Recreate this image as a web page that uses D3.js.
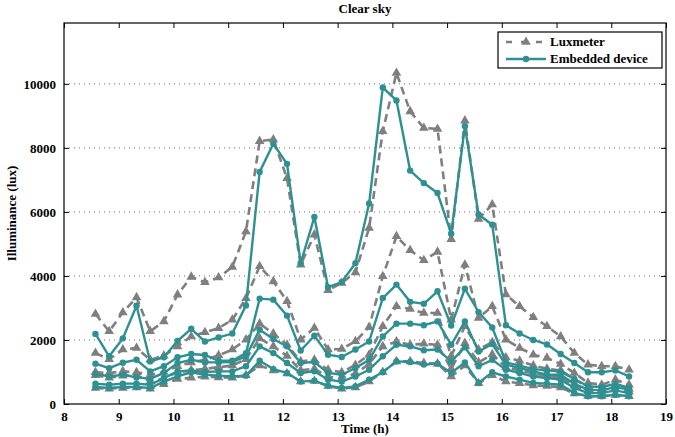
<!DOCTYPE html>
<html>
<head>
<meta charset="utf-8">
<script src="https://cdn.jsdelivr.net/npm/d3@7"></script>
<style>
  body { margin: 0; background: #fff; }
  text { font-family: "Liberation Serif", "DejaVu Serif", serif; font-weight: bold; }
</style>
</head>
<body>
<div id="chart"></div>
<script>
'use strict';

// sampling times (h), every 15 min from 8:35
var times = d3.range(40).map(function(i) { return 8.575 + 0.25 * i; });

var xTicks = [8, 9, 10, 11, 12, 13, 14, 15, 16, 17, 18, 19];
var yTicks = [0, 2000, 4000, 6000, 8000, 10000];

// luxmeter readings, one array per sensor position
var lux1 = [2810, 2270, 2860, 3330, 2270, 2580, 3415, 3970, 3800, 3950, 4280, 5390, 8210, 8260, 7050, 4350, 5290, 3550, 3780, 4110,
            5500, 8520, 10340, 9140, 8620, 8590, 5150, 8850, 5780, 6230, 3420, 3050, 2710, 2430, 2110, 1590, 1230, 1180, 1180, 1070];
var lux2 = [1590, 1400, 1700, 1750, 1380, 1510, 1800, 2110, 2240, 2370, 2630, 3300, 4300, 3830, 3210, 2010, 2375, 1700, 1720, 1960,
            2400, 3990, 5240, 4800, 4490, 4750, 2630, 4350, 2690, 3050, 2010, 1750, 1540, 1440, 1250, 970, 660, 600, 760, 600];
var lux3 = [990, 970, 1020, 990, 915, 1000, 1180, 1300, 1380, 1520, 1700, 2010, 2510, 2200, 1850, 1330, 1380, 1070, 990, 1220,
            1540, 2430, 3050, 2970, 2840, 2840, 1500, 2430, 1700, 1930, 1450, 1350, 1200, 1100, 1050, 780, 520, 470, 600, 470];
var lux4 = [900, 820, 880, 900, 700, 800, 1000, 1050, 1100, 1150, 1200, 1400, 2050, 1800, 1500, 1050, 1100, 850, 800, 950,
            1250, 1800, 1950, 1850, 1880, 1850, 1100, 1900, 1300, 1550, 1150, 1050, 950, 880, 830, 580, 400, 380, 480, 380];
var lux5 = [500, 480, 500, 520, 480, 620, 780, 820, 850, 830, 820, 900, 1200, 1050, 950, 700, 720, 560, 480, 520,
            700, 1000, 1330, 1330, 1280, 1260, 860, 1200, 650, 900, 700, 650, 580, 560, 520, 330, 250, 240, 280, 240];

// embedded device readings
var dev1 = [2190, 1490, 2050, 3070, 1330, 1460, 1970, 2350, 1950, 2080, 2200, 3080, 7250, 8130, 7500, 4400, 5840, 3650, 3810, 4400,
            6260, 9885, 9480, 7290, 6900, 6590, 5320, 8680, 5920, 5600, 2460, 2200, 2000, 1860, 1560, 1280, 990, 990, 1050, 860];
var dev2 = [1260, 1120, 1290, 1380, 1020, 1180, 1460, 1560, 1530, 1350, 1350, 1590, 3290, 3260, 2760, 1670, 2130, 1540, 1470, 1700,
            1950, 3310, 3730, 3190, 3130, 3520, 2450, 3600, 2870, 2390, 1300, 1200, 1090, 1050, 1010, 780, 550, 530, 630, 500];
var dev3 = [950, 860, 915, 830, 790, 970, 1280, 1380, 1300, 1300, 1310, 1490, 2320, 2030, 1800, 1280, 1310, 970, 915, 1125,
            1380, 2110, 2510, 2510, 2460, 2580, 1850, 2580, 1640, 1875, 1230, 1125, 1020, 915, 915, 630, 450, 425, 530, 450];
var dev4 = [635, 600, 635, 635, 600, 810, 1020, 1040, 1000, 1020, 1020, 1180, 1800, 1590, 1280, 970, 1020, 760, 700, 860,
            1070, 1490, 1850, 1800, 1680, 1700, 1330, 1770, 1180, 1380, 1070, 970, 860, 810, 760, 500, 340, 340, 425, 340];
var dev5 = [530, 500, 530, 530, 500, 700, 860, 990, 915, 885, 860, 885, 1350, 1090, 970, 700, 730, 570, 500, 550,
            760, 990, 1330, 1310, 1230, 1260, 970, 1300, 655, 990, 860, 760, 655, 635, 600, 340, 240, 240, 290, 240];

var luxSeries = [lux1, lux2, lux3, lux4, lux5];
var devSeries = [dev1, dev2, dev3, dev4, dev5];

var width = 675;
var height = 437;
var margin = {top: 23, right: 9, bottom: 33, left: 64};
var grey = '#7f7f7f';
var teal = '#2f9092';
var fontSize = '13px';

var svg = d3.select('#chart').append('svg')
    .attr('width', width)
    .attr('height', height);

var x = d3.scaleLinear().domain([8, 19]).range([margin.left, width - margin.right]);
var y = d3.scaleLinear().domain([0, 11900]).range([height - margin.bottom, margin.top]);

// dotted horizontal grid
svg.append('g')
    .selectAll('line')
    .data(yTicks.slice(1))
    .enter().append('line')
    .attr('x1', x(8)).attr('x2', x(19))
    .attr('y1', function(d) { return y(d); })
    .attr('y2', function(d) { return y(d); })
    .style('stroke', '#444')
    .style('stroke-width', 0.8)
    .style('stroke-dasharray', '1,4');

var line = d3.line()
    .x(function(d, i) { return x(times[i]); })
    .y(function(d) { return y(d); });

var triangle = d3.symbol().type(d3.symbolTriangle).size(40);

luxSeries.forEach(function(vals) {
    var g = svg.append('g');
    g.append('path')
        .attr('d', line(vals))
        .style('fill', 'none')
        .style('stroke', grey)
        .style('stroke-width', 2.6)
        .style('stroke-dasharray', '8,5');
    g.selectAll('path.m')
        .data(vals)
        .enter().append('path')
        .attr('class', 'm')
        .attr('d', triangle)
        .attr('transform', function(d, i) { return 'translate(' + x(times[i]) + ',' + y(d) + ')'; })
        .style('fill', grey);
});

devSeries.forEach(function(vals) {
    var g = svg.append('g');
    g.append('path')
        .attr('d', line(vals))
        .style('fill', 'none')
        .style('stroke', teal)
        .style('stroke-width', 2.4);
    g.selectAll('circle')
        .data(vals)
        .enter().append('circle')
        .attr('cx', function(d, i) { return x(times[i]); })
        .attr('cy', function(d) { return y(d); })
        .attr('r', 3.2)
        .style('fill', teal);
});

// frame and axes with inward ticks
var axisB = d3.axisBottom(x).tickValues(xTicks).tickSizeInner(-5).tickSizeOuter(0).tickPadding(8);
var axisL = d3.axisLeft(y).tickValues(yTicks).tickFormat(d3.format('d'))
    .tickSizeInner(-5).tickSizeOuter(0).tickPadding(8);
var axisT = d3.axisTop(x).tickValues(xTicks).tickSizeInner(-5).tickSizeOuter(0).tickFormat('');
var axisR = d3.axisRight(y).tickValues(yTicks).tickSizeInner(-5).tickSizeOuter(0).tickFormat('');

function styleAxis(g) {
    g.select('.domain').remove();
    g.selectAll('line').style('stroke', '#000').style('stroke-width', 1);
    g.selectAll('text').style('font-size', fontSize).style('fill', '#000')
        .style('font-family', '"Liberation Serif", serif').style('font-weight', 'bold');
}

svg.append('g').attr('transform', 'translate(0,' + y(0) + ')').call(axisB).call(styleAxis);
svg.append('g').attr('transform', 'translate(' + x(8) + ',0)').call(axisL).call(styleAxis);
svg.append('g').attr('transform', 'translate(0,' + margin.top + ')').call(axisT).call(styleAxis);
svg.append('g').attr('transform', 'translate(' + x(19) + ',0)').call(axisR).call(styleAxis);

svg.append('rect')
    .attr('x', x(8)).attr('y', margin.top)
    .attr('width', x(19) - x(8)).attr('height', y(0) - margin.top)
    .style('fill', 'none')
    .style('stroke', '#000')
    .style('stroke-width', 1.2);

svg.append('text')
    .attr('x', (x(8) + x(19)) / 2).attr('y', 13)
    .attr('text-anchor', 'middle')
    .style('font-size', fontSize)
    .text('Clear sky');

svg.append('text')
    .attr('x', (x(8) + x(19)) / 2).attr('y', 433)
    .attr('text-anchor', 'middle')
    .style('font-size', fontSize)
    .text('Time (h)');

svg.append('text')
    .attr('transform', 'translate(16,' + (y(0) + margin.top) / 2 + ') rotate(-90)')
    .attr('text-anchor', 'middle')
    .style('font-size', fontSize)
    .text('Illuminance (lux)');

// legend
var lg = svg.append('g').attr('transform', 'translate(498,32)');
lg.append('rect')
    .attr('width', 164).attr('height', 36)
    .style('fill', '#fff')
    .style('stroke', '#000')
    .style('stroke-width', 1.2);
lg.append('line')
    .attr('x1', 8).attr('x2', 48).attr('y1', 10).attr('y2', 10)
    .style('stroke', grey).style('stroke-width', 2.6).style('stroke-dasharray', '6,9');
lg.append('path')
    .attr('d', triangle)
    .attr('transform', 'translate(28,10)')
    .style('fill', grey);
lg.append('line')
    .attr('x1', 8).attr('x2', 48).attr('y1', 27).attr('y2', 27)
    .style('stroke', teal).style('stroke-width', 2.4);
lg.append('circle')
    .attr('cx', 28).attr('cy', 27).attr('r', 3.2)
    .style('fill', teal);
lg.append('text').attr('x', 52).attr('y', 14).style('font-size', fontSize).text('Luxmeter');
lg.append('text').attr('x', 52).attr('y', 31).style('font-size', fontSize).text('Embedded device');
</script>
</body>
</html>
